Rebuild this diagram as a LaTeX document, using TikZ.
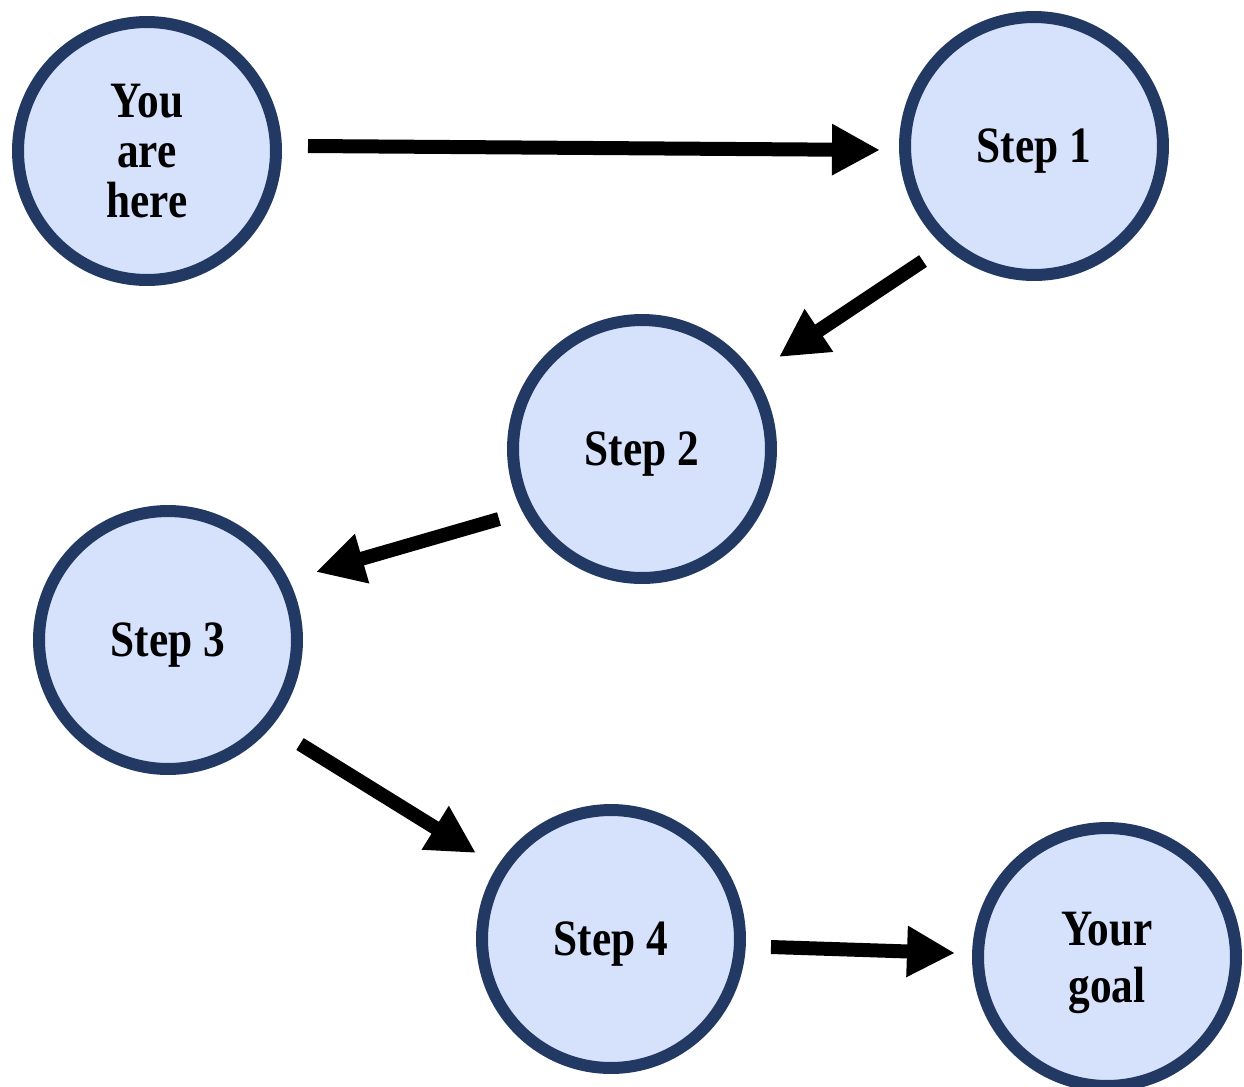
\documentclass[tikz,border=0pt]{standalone}
\usepackage{fontspec}
\setmainfont[FakeStretch=0.85]{Liberation Serif}
\usetikzlibrary{arrows.meta}
\definecolor{ringblue}{RGB}{34,57,99}
\definecolor{fillblue}{RGB}{214,226,252}
\begin{document}
\begin{tikzpicture}[x=0.02cm,y=-0.02cm,
  stepnode/.style={circle, draw=ringblue, fill=fillblue, line width=0.24cm,
    minimum size=5.16cm, inner sep=0pt, align=center,
    font=\fontsize{29}{28.3}\selectfont\bfseries},
  oneline/.style={stepnode, text depth=0pt},
  arr/.style={line width=0.28cm, -{Triangle[length=0.96cm,width=0.96cm]}}]
\clip (0,0) rectangle (1244,1086);
\node[stepnode] (here) at (147,151) {You\\are\\here};
\node[oneline] (s1) at (1034,146) {Step 1};
\node[oneline] (s2) at (642,449) {Step 2};
\node[oneline] (s3) at (168,640) {Step 3};
\node[oneline] (s4) at (611,939) {Step 4};
\node[stepnode, text depth=0pt, font=\fontsize{29}{32.3}\selectfont\bfseries] (goal) at (1107,957) {Your\\goal};
\draw[arr] ([shift={(161,-5)}]here.center) -- ([shift={(-154,4)}]s1.center);
\draw[arr] ([shift={(-111,115)}]s1.center) -- ([shift={(137,-92)}]s2.center);
\draw[arr] ([shift={(-143,70)}]s2.center) -- ([shift={(148,-68)}]s3.center);
\draw[arr] ([shift={(132,104)}]s3.center) -- ([shift={(-135,-86)}]s4.center);
\draw[arr] ([shift={(160,8)}]s4.center) -- ([shift={(-152,-4)}]goal.center);
\end{tikzpicture}
\end{document}
